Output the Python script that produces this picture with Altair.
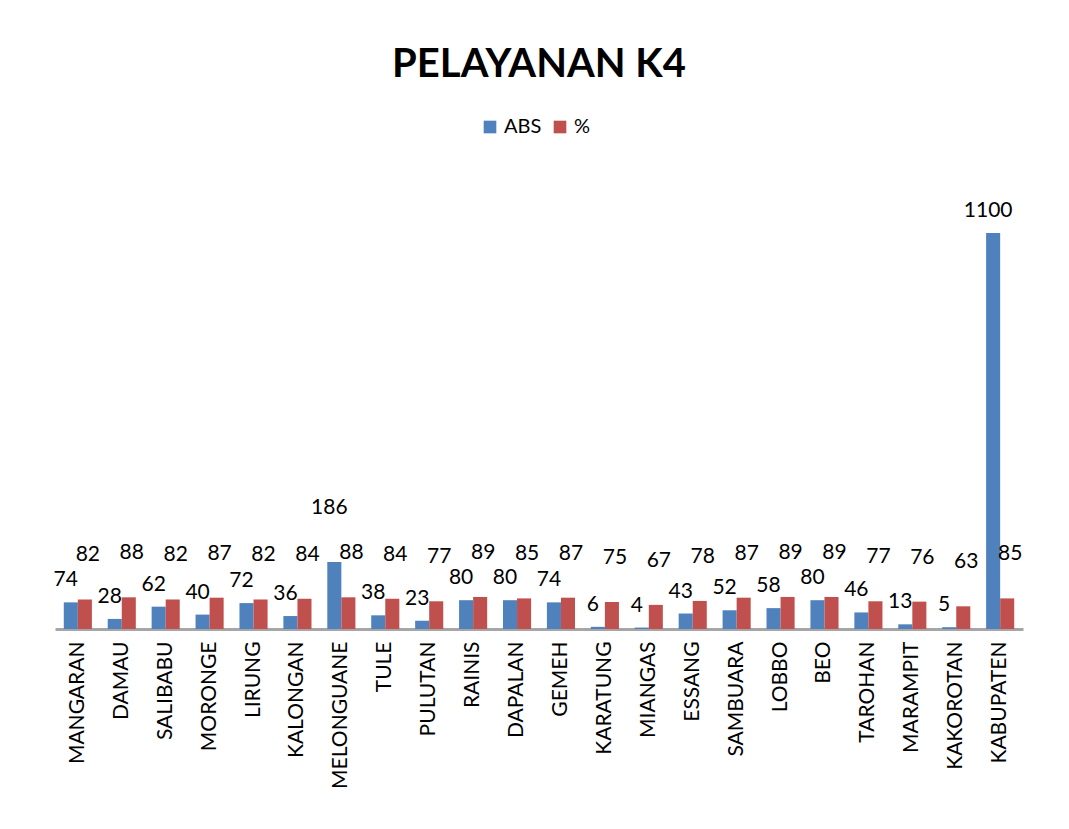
import altair as alt
import pandas as pd

categories = ["MANGARAN", "DAMAU", "SALIBABU", "MORONGE", "LIRUNG", "KALONGAN",
              "MELONGUANE", "TULE", "PULUTAN", "RAINIS", "DAPALAN", "GEMEH",
              "KARATUNG", "MIANGAS", "ESSANG", "SAMBUARA", "LOBBO", "BEO",
              "TAROHAN", "MARAMPIT", "KAKOROTAN", "KABUPATEN"]
abs_values = [74, 28, 62, 40, 72, 36, 186, 38, 23, 80, 80, 74, 6, 4, 43, 52, 58,
              80, 46, 13, 5, 1100]
pct_values = [82, 88, 82, 87, 82, 84, 88, 84, 77, 89, 85, 87, 75, 67, 78, 87, 89,
              89, 77, 76, 63, 85]
series = ["ABS", "%"]
colors = ["#4F81BD", "#C0504D"]

rows = []
for c, a, p in zip(categories, abs_values, pct_values):
    rows.append({"wilayah": c, "seri": "ABS", "nilai": a})
    rows.append({"wilayah": c, "seri": "%", "nilai": p})
df = pd.DataFrame(rows)

FONT = "Lato"

x = alt.X("wilayah:N", sort=categories, title=None,
          scale=alt.Scale(paddingInner=0.36, paddingOuter=0.2),
          axis=alt.Axis(labelAngle=-90, labelFontSize=21, labelColor="black",
                        labelFont=FONT, ticks=False, labelPadding=12,
                        domainColor="#A6A6A6", domainWidth=3))
yscale = alt.Scale(domain=[0, 1250])
y = alt.Y("nilai:Q", scale=yscale, axis=None)
xoff = alt.XOffset("seri:N", sort=series, scale=alt.Scale(domain=series))

base = alt.Chart(df)

bars = base.mark_bar().encode(
    x=x, y=y,
    xOffset=xoff,
    color=alt.Color("seri:N", sort=series,
                    scale=alt.Scale(domain=series, range=colors),
                    legend=alt.Legend(title=None, orient="none", direction="horizontal",
                                      legendX=425, legendY=-62, labelFontSize=20,
                                      labelFont=FONT, symbolType="square",
                                      symbolSize=160, symbolStrokeWidth=0,
                                      columnPadding=8, labelColor="black")),
)

lab_abs = base.transform_filter(alt.datum.seri == "ABS").transform_calculate(
    ly="datum.nilai > 150 && datum.nilai < 500 ? datum.nilai + 90 : datum.nilai"
).mark_text(
    fontSize=21, font=FONT, dx=-5, dy=-22, color="black"
).encode(x=x, y=alt.Y("ly:Q", scale=yscale, axis=None), xOffset=xoff,
         text="nilai:Q")

lab_pct = base.transform_filter(alt.datum.seri == "%").mark_text(
    fontSize=21, font=FONT, dx=3, dy=-44, color="black"
).encode(x=x, y=y, xOffset=xoff, text="nilai:Q")

chart = alt.layer(bars, lab_abs, lab_pct).properties(
    width=968, height=450,
    title=alt.Title("PELAYANAN K4", fontSize=40, font=FONT, fontWeight="bold",
                    anchor="middle", offset=32, color="black"),
    padding={"left": 45, "top": 37, "right": 5, "bottom": 5},
).configure(background="white").configure_view(stroke=None, strokeWidth=0)

chart.save("out.html", embed_options={"renderer": "svg", "actions": False})
